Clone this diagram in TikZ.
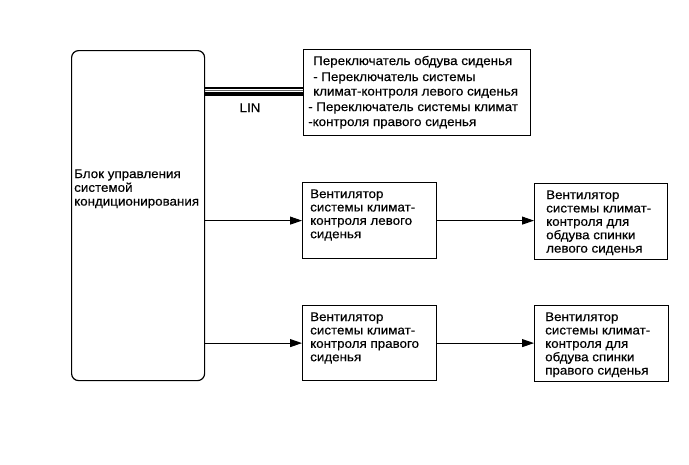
\documentclass[tikz,border=0pt]{standalone}
\usepackage{fontspec}
\setmainfont{Liberation Sans}[FakeStretch=1.07,FakeBold=0.4]
\usetikzlibrary{arrows.meta}
\newcommand\mylines[2]{\vtop{\baselineskip=#1\relax\halign{##\hfil\cr#2\crcr}}}
\tikzset{
  boxstyle/.style={draw, line width=1.2pt, anchor=north west, inner sep=0pt},
  ctlstyle/.style={boxstyle, rounded corners=7pt},
  txtstyle/.style={anchor=base west, inner sep=0pt, font=\fontsize{12.5}{13.4}\selectfont},
  arr/.style={line width=1pt, -{Triangle[length=12pt,width=8pt]}},
  bus/.style={line width=#1},
}
\begin{document}
\begin{tikzpicture}[x=1pt,y=-1pt]
\useasboundingbox[fill=white] (0,0) rectangle (689,464);
% boxes
\node[ctlstyle, minimum width=133pt, minimum height=330pt] (ctl) at (71,50) {};
\node[boxstyle, minimum width=227pt, minimum height=86pt] (sw) at (303,49) {};
\node[boxstyle, minimum width=134pt, minimum height=76pt] (fl1) at (302,182) {};
\node[boxstyle, minimum width=133pt, minimum height=76pt] (fr1) at (534,183) {};
\node[boxstyle, minimum width=134pt, minimum height=75pt] (fl2) at (302,305) {};
\node[boxstyle, minimum width=134pt, minimum height=76pt] (fr2) at (534,305) {};
% texts
\node[txtstyle] (tctl) at (74,178) {\mylines{13.8pt}{Блок управления\cr системой\cr кондиционирования}};
\node[txtstyle] (tsw1) at (313,65) {Переключатель обдува сиденья};
\node[txtstyle] (tsw2) at (313,81) {\mylines{14.5pt}{- Переключатель системы\cr климат-контроля левого сиденья}};
\node[txtstyle] (tsw3) at (308,111) {\mylines{15pt}{- Переключатель системы климат\cr -контроля правого сиденья}};
\node[txtstyle] (tfl1) at (310,198) {\mylines{13.4pt}{Вентилятор\cr системы климат-\cr контроля левого\cr сиденья}};
\node[txtstyle] (tfr1) at (546,199) {\mylines{13.4pt}{Вентилятор\cr системы климат-\cr контроля для\cr обдува спинки\cr левого сиденья}};
\node[txtstyle] (tfl2) at (310,321) {\mylines{13.4pt}{Вентилятор\cr системы климат-\cr контроля правого\cr сиденья}};
\node[txtstyle] (tfr2) at (545,321) {\mylines{13.4pt}{Вентилятор\cr системы климат-\cr контроля для\cr обдува спинки\cr правого сиденья}};
% LIN bus
\coordinate (b1) at (0,88);
\coordinate (b2) at (0,90.5);
\coordinate (b3) at (0,94);
\draw[bus=1.3pt] (ctl.east |- b1) -- (sw.west |- b1);
\draw[bus=0.8pt, black!60] (ctl.east |- b2) -- (sw.west |- b2);
\draw[bus=4.5pt] (ctl.east |- b3) -- (sw.west |- b3);
\node[txtstyle, anchor=base] (lin) at (250,112) {LIN};
% arrows
\draw[arr] (ctl.east |- fl1.west) -- (fl1.west);
\draw[arr] (ctl.east |- fl2.west) -- (fl2.west);
\draw[arr] (fl1.east) -- (fl1.east -| fr1.west);
\draw[arr] (fl2.east) -- (fl2.east -| fr2.west);
\end{tikzpicture}
\end{document}
